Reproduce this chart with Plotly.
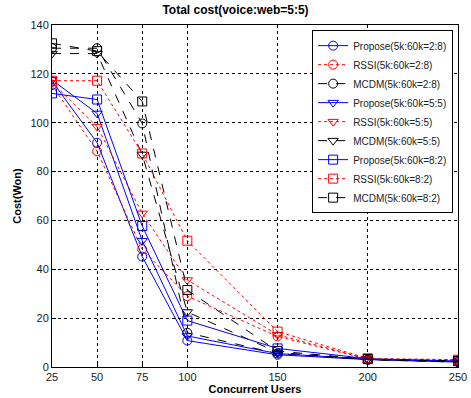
import plotly.graph_objects as go

users = [25, 50, 75, 100, 150, 200, 250]

propose_28 = [117, 91.8, 45.2, 10.8, 5.0, 3.0, 2.0]
rssi_28 = [115.4, 88.3, 48.2, 29.0, 12.5, 3.2, 2.8]
mcdm_28 = [130.5, 130.5, 99.7, 14.0, 5.5, 3.0, 2.2]
propose_55 = [117.5, 103.8, 51.7, 12.7, 5.5, 3.2, 2.3]
rssi_55 = [116.4, 98.4, 62.9, 35.6, 13.2, 3.3, 2.8]
mcdm_55 = [128.3, 128.3, 87.0, 22.5, 6.0, 3.0, 2.0]
propose_82 = [112.0, 109.5, 57.7, 19.0, 7.6, 3.4, 2.4]
rssi_82 = [117.2, 117.2, 87.4, 51.7, 14.5, 3.5, 3.0]
mcdm_82 = [132.5, 129.3, 108.7, 31.5, 6.5, 3.2, 2.5]

series = [
    ("Propose(5k:60k=2:8)", propose_28, "blue", "solid", "circle-open"),
    ("RSSI(5k:60k=2:8)", rssi_28, "red", "dot", "circle-open"),
    ("MCDM(5k:60k=2:8)", mcdm_28, "black", "dash", "circle-open"),
    ("Propose(5k:60k=5:5)", propose_55, "blue", "solid", "triangle-down-open"),
    ("RSSI(5k:60k=5:5)", rssi_55, "red", "dot", "triangle-down-open"),
    ("MCDM(5k:60k=5:5)", mcdm_55, "black", "dash", "triangle-down-open"),
    ("Propose(5k:60k=8:2)", propose_82, "blue", "solid", "square-open"),
    ("RSSI(5k:60k=8:2)", rssi_82, "red", "dot", "square-open"),
    ("MCDM(5k:60k=8:2)", mcdm_82, "black", "dash", "square-open"),
]

fig = go.Figure()
for name, vals, color, dash, sym in series:
    fig.add_trace(go.Scatter(
        x=users, y=vals, name=name, mode="lines+markers",
        line=dict(color=color, dash=dash, width=1),
        marker=dict(symbol=sym, size=9, color=color, line=dict(width=1, color=color)),
    ))

axis_common = dict(
    showline=True, linecolor="black", linewidth=1, mirror=True,
    ticks="inside", ticklen=4, tickcolor="black",
    showgrid=True, gridcolor="black", griddash="dot", gridwidth=1,
    zeroline=False, automargin=False,
    tickfont=dict(family="Arial, Liberation Sans", size=11, color="#222"),
)

fig.update_layout(
    width=471, height=398,
    margin=dict(l=52, r=13, t=25, b=31),
    paper_bgcolor="white", plot_bgcolor="white",
    title=dict(text="<b>Total cost(voice:web=5:5)</b>", x=0.5, xanchor="center",
               y=0.985, yanchor="top",
               font=dict(family="Arial, Liberation Sans", size=12, color="black")),
    xaxis=dict(range=[25, 250], tickvals=users, ticktext=[str(u) for u in users],
               title=dict(text="<b>Concurrent Users</b>", standoff=2,
                          font=dict(family="Arial, Liberation Sans", size=11, color="black")),
               **axis_common),
    yaxis=dict(range=[0, 140], tickvals=[0, 20, 40, 60, 80, 100, 120, 140],
               title=dict(text="<b>Cost(Won)</b>", standoff=6,
                          font=dict(family="Arial, Liberation Sans", size=11, color="black")),
               **axis_common),
    legend=dict(x=0.988, y=0.985, xanchor="right", yanchor="top",
                bgcolor="white", bordercolor="black", borderwidth=1,
                font=dict(family="Arial, Liberation Sans", size=10, color="#222"),
                tracegroupgap=0, itemwidth=30),
    showlegend=True,
)

fig.write_html("out.html")
